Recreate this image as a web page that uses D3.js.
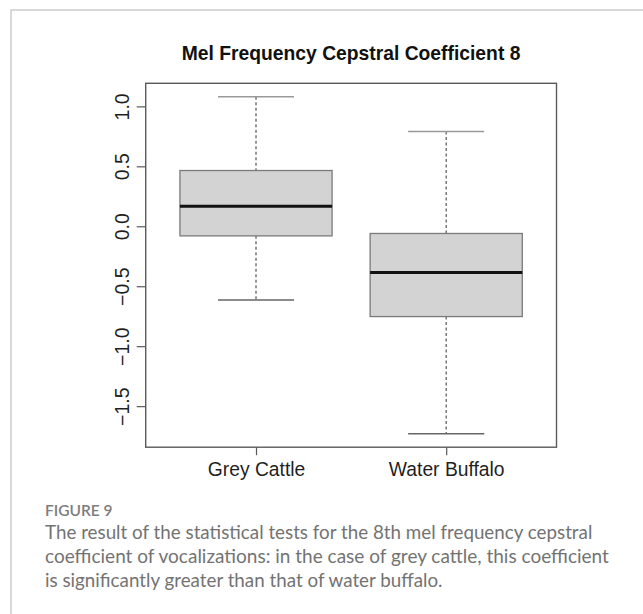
<!DOCTYPE html>
<html>
<head>
<meta charset="utf-8">
<script src="https://cdn.jsdelivr.net/npm/d3@7"></script>
<style>
  html, body { margin: 0; padding: 0; background: #fff; }
  svg { display: block; }
</style>
</head>
<body>
<svg id="fig" width="643" height="614"></svg>
<script>
// Five-number summaries for the 8th MFCC, one entry per species
const categories = ["Grey Cattle", "Water Buffalo"];
const whiskerLow = [-0.615, -1.73];
const q1 = [-0.08, -0.753];
const median = [0.166, -0.385];
const q3 = [0.465, -0.06];
const whiskerHigh = [1.08, 0.79];
const yTicks = [-1.5, -1.0, -0.5, 0.0, 0.5, 1.0];

const title = "Mel Frequency Cepstral Coefficient 8";
const figureLabel = "FIGURE 9";
const captionLines = [
  "The result of the statistical tests for the 8th mel frequency cepstral",
  "coefficient of vocalizations: in the case of grey cattle, this coefficient",
  "is significantly greater than that of water buffalo."
];

const svg = d3.select("#fig");

// Panel frame (runs off the right and bottom edges)
svg.append("rect")
  .attr("x", 11).attr("y", 10)
  .attr("width", 700).attr("height", 700)
  .attr("fill", "none").attr("stroke", "#c4c4c4").attr("stroke-width", 1.3);

// Plot region
const plot = { left: 145.7, right: 556.5, top: 83.3, bottom: 447.2 };

// Axis ranges padded by 4% like base R graphics
const lo = d3.min(whiskerLow), hi = d3.max(whiskerHigh);
const pad = (hi - lo) * 0.04;
const y = d3.scaleLinear().domain([lo - pad, hi + pad]).range([plot.bottom, plot.top]);
const xPad = (categories.length) * 0.04;
const x = d3.scaleLinear()
  .domain([0.5 - xPad, categories.length + 0.5 + xPad])
  .range([plot.left, plot.right]);

const chartFont = "'Liberation Sans', Arial, Helvetica, sans-serif";
const boxHalf = 0.4;   // box half-width in category units
const capHalf = 0.2;   // whisker cap half-width

// Title
svg.append("text")
  .attr("x", (plot.left + plot.right) / 2).attr("y", 59.5)
  .attr("text-anchor", "middle")
  .attr("font-family", chartFont).attr("font-weight", "bold")
  .attr("font-size", 19.3).attr("fill", "#111")
  .text(title);

// Boxes
const data = categories.map((c, i) => ({
  name: c, pos: i + 1,
  lo: whiskerLow[i], q1: q1[i], med: median[i], q3: q3[i], hi: whiskerHigh[i]
}));

const g = svg.append("g");
const boxes = g.selectAll("g.box").data(data).join("g").attr("class", "box");

// dashed whiskers
boxes.append("line")
  .attr("x1", d => x(d.pos)).attr("x2", d => x(d.pos))
  .attr("y1", d => y(d.hi)).attr("y2", d => y(d.q3))
  .attr("stroke", "#555").attr("stroke-width", 1.2).attr("stroke-dasharray", "3,2.5");
boxes.append("line")
  .attr("x1", d => x(d.pos)).attr("x2", d => x(d.pos))
  .attr("y1", d => y(d.q1)).attr("y2", d => y(d.lo))
  .attr("stroke", "#555").attr("stroke-width", 1.2).attr("stroke-dasharray", "3,2.5");

// whisker caps
boxes.append("line")
  .attr("x1", d => x(d.pos - capHalf)).attr("x2", d => x(d.pos + capHalf))
  .attr("y1", d => y(d.hi)).attr("y2", d => y(d.hi))
  .attr("stroke", "#999").attr("stroke-width", 1.5);
boxes.append("line")
  .attr("x1", d => x(d.pos - capHalf)).attr("x2", d => x(d.pos + capHalf))
  .attr("y1", d => y(d.lo)).attr("y2", d => y(d.lo))
  .attr("stroke", "#666").attr("stroke-width", 1.5);

// interquartile box
boxes.append("rect")
  .attr("x", d => x(d.pos - boxHalf))
  .attr("width", d => x(d.pos + boxHalf) - x(d.pos - boxHalf))
  .attr("y", d => y(d.q3))
  .attr("height", d => y(d.q1) - y(d.q3))
  .attr("fill", "#d3d3d3").attr("stroke", "#7a7a7a").attr("stroke-width", 1.3);

// median
boxes.append("line")
  .attr("x1", d => x(d.pos - boxHalf)).attr("x2", d => x(d.pos + boxHalf))
  .attr("y1", d => y(d.med)).attr("y2", d => y(d.med))
  .attr("stroke", "#111").attr("stroke-width", 3);

// Plot frame
svg.append("rect")
  .attr("x", plot.left).attr("y", plot.top)
  .attr("width", plot.right - plot.left).attr("height", plot.bottom - plot.top)
  .attr("fill", "none").attr("stroke", "#5a5a5a").attr("stroke-width", 1.4);

// Y axis with rotated labels
const fmt = v => d3.format(".1f")(v).replace("-", "\u2212");
const yAxis = d3.axisLeft(y).tickValues(yTicks).tickSize(9).tickPadding(6).tickFormat(fmt);
const ya = svg.append("g").attr("transform", `translate(${plot.left},0)`).call(yAxis)
  .attr("font-family", chartFont);
ya.select(".domain").remove();
ya.selectAll(".tick line").attr("stroke", "#5a5a5a").attr("stroke-width", 1.2);
ya.selectAll(".tick text")
  .attr("x", null).attr("dy", null)
  .attr("transform", "translate(-16.5,0) rotate(-90)")
  .attr("text-anchor", "middle")
  .attr("font-family", chartFont).attr("font-size", 19.5).attr("fill", "#1f1f1f");

// X axis
const xAxis = d3.axisBottom(x).tickValues(data.map(d => d.pos)).tickSize(8).tickPadding(6)
  .tickFormat((v) => categories[v - 1]);
const xa = svg.append("g").attr("transform", `translate(0,${plot.bottom})`).call(xAxis)
  .attr("font-family", chartFont);
xa.select(".domain").remove();
xa.selectAll(".tick line").attr("stroke", "#5a5a5a").attr("stroke-width", 1.2);
xa.selectAll(".tick text")
  .attr("y", null).attr("dy", null)
  .attr("transform", "translate(0,29)")
  .attr("font-family", chartFont).attr("font-size", 19.3).attr("fill", "#1f1f1f");

// Caption
const capFont = "Lato, 'Open Sans', sans-serif";
svg.append("text")
  .attr("x", 45).attr("y", 516)
  .attr("font-family", capFont).attr("font-weight", 600)
  .attr("font-size", 15.5).attr("fill", "#7d7d7d")
  .text(figureLabel);

const capTargets = [548, 568, 398];
svg.append("g").selectAll("text").data(captionLines).join("text")
  .attr("x", 45).attr("y", (d, i) => 538.5 + i * 24)
  .attr("font-family", capFont).attr("font-size", 17.5).attr("fill", "#737373")
  .text(d => d)
  .each(function (d, i) {
    // scale font so each line fills its measured width
    const w = this.getComputedTextLength();
    const fs = 17.5 * capTargets[i] / w;
    d3.select(this).attr("font-size", Math.min(fs, 19).toFixed(2));
  });
</script>
</body>
</html>
